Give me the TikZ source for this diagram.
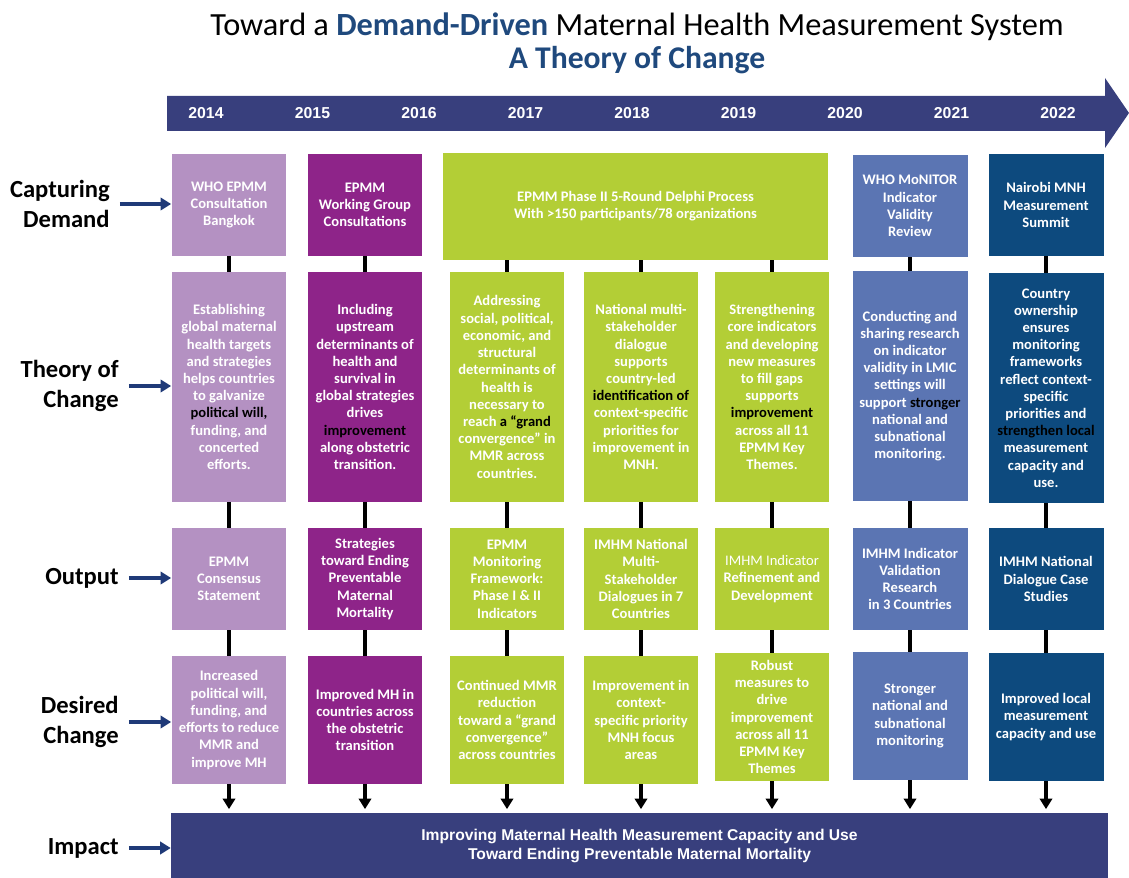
\documentclass[tikz,border=0pt]{standalone}
\usepackage{fontspec}
\setmainfont{Carlito}
\newfontfamily\arialfont{Liberation Sans}
\usetikzlibrary{arrows.meta}

\definecolor{lilac}{HTML}{B491C2}
\definecolor{plum}{HTML}{8E2489}
\definecolor{limegreen}{HTML}{B3CE36}
\definecolor{steel}{HTML}{5B75B3}
\definecolor{deepblue}{HTML}{0D4A7E}
\definecolor{band}{HTML}{383F7D}
\definecolor{titleblue}{HTML}{1F497D}
\definecolor{arrowblue}{HTML}{1F3A78}

\tikzset{
  box/.style={text=white, font=\bfseries\fontsize{8.3}{9.8}\selectfont,
    align=center, minimum width=2.3cm, inner sep=0pt},
  demandbox/.style={box, minimum height=2.04cm},
  theorybox/.style={box, minimum height=4.6cm},
  outputbox/.style={box, minimum height=2.04cm},
  changebox/.style={box, minimum height=2.56cm},
  rowlabel/.style={anchor=east, align=right, inner sep=0pt,
    font=\bfseries\fontsize{14}{17}\selectfont},
  link/.style={line width=1.8pt},
  sidearrow/.style={arrowblue, line width=1.8pt, shorten <=0.2cm,
    -{Triangle[width=7pt,length=6pt]}}
}

\begin{document}
\begin{tikzpicture}[x=0.02cm, y=-0.02cm, line join=round]
  \useasboundingbox (0,0) rectangle (1129,878);

  % heading
  \node (title) at (637,27) {\fontsize{18.4}{22}\selectfont Toward a
    \textcolor{titleblue}{\bfseries Demand-Driven} Maternal Health Measurement System};
  \node[text=titleblue] (subtitle) at (637,60)
    {\fontsize{18}{22}\selectfont\bfseries A Theory of Change};

  % time line
  \fill[band] (167,96) -- (1105,96) -- (1105,78) -- (1129,113)
    -- (1105,148) -- (1105,131) -- (167,131) -- cycle;
  \foreach \yr [count=\i from 0] in {2014,...,2022}
    \node[text=white, font=\arialfont\bfseries\fontsize{9}{10}\selectfont]
      (y\yr) at (206+106.5*\i,113) {\yr};

  % row labels
  \node[rowlabel] (lcd) at (110,204) {Capturing\\Demand};
  \node[rowlabel] (ltoc) at (119,386) {Theory of\\Change};
  \node[rowlabel] (lout) at (119,578) {Output};
  \node[rowlabel] (ldc) at (119,722) {Desired\\Change};
  \node[rowlabel] (limp) at (119,848) {Impact};

  % 2014
  \node[demandbox, fill=lilac] (cd1) at (229,205) {WHO EPMM\\Consultation\\Bangkok};
  \node[theorybox, fill=lilac] (toc1) at (229,387) {Establishing\\global maternal\\health targets\\and strategies\\helps countries\\to galvanize\\\color{black}political will,\\funding, and\\concerted\\efforts.};
  \node[outputbox, fill=lilac] (out1) at (229,579) {EPMM\\Consensus\\Statement};
  \node[changebox, fill=lilac] (dc1) at (229,720) {Increased\\political will,\\funding, and\\efforts to reduce\\MMR and\\improve MH};

  % 2015-2016
  \node[demandbox, fill=plum] (cd2) at (365,205) {EPMM\\Working Group\\Consultations};
  \node[theorybox, fill=plum] (toc2) at (365,387) {Including\\upstream\\determinants of\\health and\\survival in\\global strategies\\drives\\\color{black}improvement\\along obstetric\\transition.};
  \node[outputbox, fill=plum] (out2) at (365,579) {Strategies\\toward Ending\\Preventable\\Maternal\\Mortality};
  \node[changebox, fill=plum] (dc2) at (365,720) {Improved MH in\\countries across\\the obstetric\\transition};

  % 2017-2019
  \node[box, fill=limegreen, minimum width=7.7cm, minimum height=2.14cm] (delphi)
    at (635.5,206.5) {EPMM Phase II 5-Round Delphi Process\\With >150 participants/78 organizations};

  \node[theorybox, fill=limegreen] (toc3) at (507,387) {Addressing\\social, political,\\economic, and\\structural\\determinants of\\health is\\necessary to\\reach \color{black}a “grand\\convergence” in\\MMR across\\countries.};
  \node[outputbox, fill=limegreen] (out3) at (507,579) {EPMM\\Monitoring\\Framework:\\Phase I \& II\\Indicators};
  \node[changebox, fill=limegreen] (dc3) at (507,720) {Continued MMR\\reduction\\toward a “grand\\convergence”\\across countries};

  \node[theorybox, fill=limegreen] (toc4) at (641,387) {National multi-\\stakeholder\\dialogue\\supports\\country-led\\\color{black}identification of\\context-specific\\priorities for\\improvement in\\MNH.};
  \node[outputbox, fill=limegreen] (out4) at (641,579) {IMHM National\\Multi-\\Stakeholder\\Dialogues in 7\\Countries};
  \node[changebox, fill=limegreen] (dc4) at (641,720) {Improvement in\\context-\\specific priority\\MNH focus\\areas};

  \node[theorybox, fill=limegreen] (toc5) at (772,387) {Strengthening\\core indicators\\and developing\\new measures\\to fill gaps\\supports\\\color{black}improvement\\across all 11\\EPMM Key\\Themes.};
  \node[outputbox, fill=limegreen] (out5) at (772,579) {{\mdseries IMHM Indicator}\\Refinement and\\Development};
  \node[changebox, fill=limegreen] (dc5) at (772,717) {Robust\\measures to\\drive\\improvement\\across all 11\\EPMM Key\\Themes};

  % 2020-2021
  \node[demandbox, fill=steel] (cd6) at (910,206) {WHO MoNITOR\\Indicator\\Validity\\Review};
  \node[theorybox, fill=steel] (toc6) at (910,386) {Conducting and\\sharing research\\on indicator\\validity in LMIC\\settings will\\support \color{black}stronger\\national and\\subnational\\monitoring.};
  \node[outputbox, fill=steel] (out6) at (910,579) {IMHM Indicator\\Validation\\Research\\in 3 Countries};
  \node[changebox, fill=steel] (dc6) at (910,716) {Stronger\\national and\\subnational\\monitoring};

  % 2022
  \node[demandbox, fill=deepblue] (cd7) at (1046,205) {Nairobi MNH\\Measurement\\Summit};
  \node[theorybox, fill=deepblue] (toc7) at (1046,388) {Country\\ownership\\ensures\\monitoring\\frameworks\\reflect context-\\specific\\priorities and\\\color{black}strengthen local\\measurement\\capacity and\\use.};
  \node[outputbox, fill=deepblue] (out7) at (1046,579) {IMHM National\\Dialogue Case\\Studies};
  \node[changebox, fill=deepblue] (dc7) at (1046,717) {Improved local\\measurement\\capacity and use};

  % impact
  \node[fill=band, text=white, align=center, inner sep=0pt,
    minimum width=18.74cm, minimum height=1.3cm,
    font=\arialfont\bfseries\fontsize{8.9}{10.8}\selectfont] (impact) at (639.5,845.5)
    {Improving Maternal Health Measurement Capacity and Use\\Toward Ending Preventable Maternal Mortality};

  % links
  \foreach \c in {1,2,6,7} \draw[link] (cd\c) -- (toc\c);
  \foreach \c in {3,4,5} \draw[link] (toc\c.north |- delphi.south) -- (toc\c);
  \foreach \c in {1,...,7} {
    \draw[link] (toc\c) -- (out\c);
    \draw[link] (out\c) -- (dc\c);
    \draw[link, shorten >=2pt, -{Triangle[width=7pt,length=6pt]}]
      (dc\c) -- (dc\c.south |- impact.north);
  }
  \foreach \l/\b in {lcd/cd1, ltoc/toc1, lout/out1, ldc/dc1, limp/impact}
    \draw[sidearrow] (\l.east) -- (\l.east -| \b.west);
\end{tikzpicture}
\end{document}
